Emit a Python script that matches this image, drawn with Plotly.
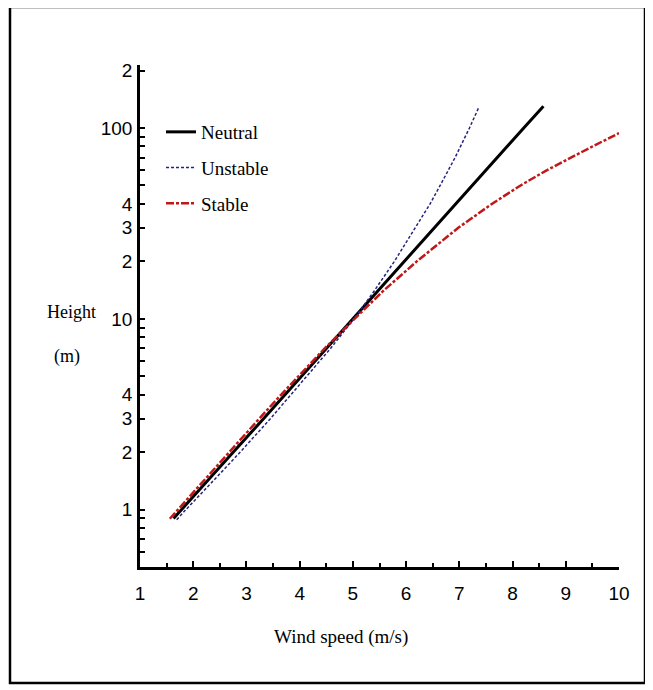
import plotly.graph_objects as go

# ---- data ----
neutral_height = [0.9, 1, 2, 3, 4, 5, 7, 10, 15, 20, 30, 40, 50, 70, 100, 130]
neutral_speed = [1.63, 1.78, 2.75, 3.32, 3.72, 4.03, 4.50, 5.00, 5.56, 5.96, 6.53, 6.93, 7.24, 7.71, 8.21, 8.58]

unstable_height = [0.886, 1, 1.5, 2, 3, 4, 5, 7, 10, 14, 20, 30, 40, 50, 70, 100, 129]
unstable_speed = [1.69, 1.86, 2.46, 2.88, 3.45, 3.84, 4.14, 4.58, 5.02, 5.40, 5.78, 6.18, 6.45, 6.64, 6.92, 7.19, 7.37]

stable_height = [0.897, 1, 1.5, 2, 3, 4, 5, 7, 10, 14, 20, 30, 40, 50, 60, 70, 80, 94]
stable_speed = [1.56, 1.71, 2.27, 2.67, 3.24, 3.65, 3.97, 4.47, 5.03, 5.57, 6.20, 6.98, 7.61, 8.15, 8.64, 9.09, 9.50, 10.0]

x_tick_vals = [1, 2, 3, 4, 5, 6, 7, 8, 9, 10]
x_tick_text = ["1", "2", "3", "4", "5", "6", "7", "8", "9", "10"]

y_tick_vals = [0.6, 0.7, 0.8, 0.9, 1, 2, 3, 4, 5, 6, 7, 8, 9, 10,
               20, 30, 40, 50, 60, 70, 80, 90, 100, 200]
y_tick_text = ["", "", "", "", "1", "2", "3", "4", "", "", "", "", "", "10",
               "2", "3", "4", "", "", "", "", "", "100", "2"]

SERIF = "Liberation Serif, Times New Roman, serif"
SANS = "Liberation Sans, Arial, sans-serif"

fig = go.Figure()
fig.add_trace(go.Scatter(x=neutral_speed, y=neutral_height, mode="lines", name="Neutral",
                         legendgroup="a",
                         line=dict(color="black", width=3)))
fig.add_trace(go.Scatter(x=unstable_speed, y=unstable_height, mode="lines", name="Unstable",
                         legendgroup="b",
                         line=dict(color="#24247f", width=1.5, dash="3px,2px")))
fig.add_trace(go.Scatter(x=stable_speed, y=stable_height, mode="lines", name="Stable",
                         legendgroup="c",
                         line=dict(color="#c01818", width=2.5, dash="8px,2px,3px,2px")))

OFF = 8  # page body margin
W, H = 653 - OFF, 690 - OFF
L, R, T, B = 140 - OFF, 653 - 619, 65 - OFF, 690 - 567
pw, ph = W - L - R, H - T - B

def px_to_paper(x, y):
    # x, y in reference-image pixels
    return (x - OFF - L) / pw, (H - B - (y - OFF)) / ph

lx, _ = px_to_paper(161, 0)
_, ly = px_to_paper(0, 113)

fig.update_layout(
    width=W, height=H,
    margin=dict(l=L, r=R, t=T, b=B, autoexpand=False),
    paper_bgcolor="white", plot_bgcolor="white",
    showlegend=True,
    legend=dict(x=lx, y=ly, xanchor="left", yanchor="top",
                font=dict(family=SERIF, size=19, color="black"),
                bgcolor="rgba(0,0,0,0)", tracegroupgap=8),
    xaxis=dict(range=[1, 10], tickmode="array", tickvals=x_tick_vals, ticktext=x_tick_text,
               ticks="inside", ticklen=6, tickwidth=1.5, tickcolor="black",
               showline=True, linecolor="black", linewidth=2.5,
               showgrid=False, zeroline=False,
               tickfont=dict(family=SANS, size=19, color="black"),
               ticklabelstandoff=7,
               minor=dict(dtick=0.5, ticks="inside", ticklen=4, tickwidth=1.5, tickcolor="black",
                          showgrid=False)),
    yaxis=dict(type="log", range=[-0.3, 2.33], tickmode="array",
               tickvals=y_tick_vals, ticktext=y_tick_text,
               ticks="inside", ticklen=5, tickwidth=1.5, tickcolor="black",
               showline=True, linecolor="black", linewidth=2.5,
               showgrid=False, zeroline=False,
               tickfont=dict(family=SANS, size=19, color="black"),
               ticklabelstandoff=1),
)

ax, ay = px_to_paper(341, 637)
fig.add_annotation(x=ax, y=ay, xref="paper", yref="paper", text="Wind speed (m/s)",
                   xanchor="center", yanchor="middle",
                   showarrow=False, font=dict(family=SERIF, size=19, color="black"))
hx, hy = px_to_paper(71, 312)
fig.add_annotation(x=hx, y=hy, xref="paper", yref="paper", text="Height",
                   xanchor="center", yanchor="middle",
                   showarrow=False, font=dict(family=SERIF, size=18, color="black"))
mx, my = px_to_paper(67, 357)
fig.add_annotation(x=mx, y=my, xref="paper", yref="paper", text="(m)",
                   xanchor="center", yanchor="middle",
                   showarrow=False, font=dict(family=SERIF, size=18, color="black"))

bx0, by0 = px_to_paper(10, 683)
bx1, by1 = px_to_paper(645, 7)
fig.add_shape(type="rect", xref="paper", yref="paper", x0=bx0, y0=by0, x1=bx1, y1=by1,
              line=dict(color="black", width=2.5), fillcolor="rgba(0,0,0,0)", layer="above")

fig.write_html("out.html")
